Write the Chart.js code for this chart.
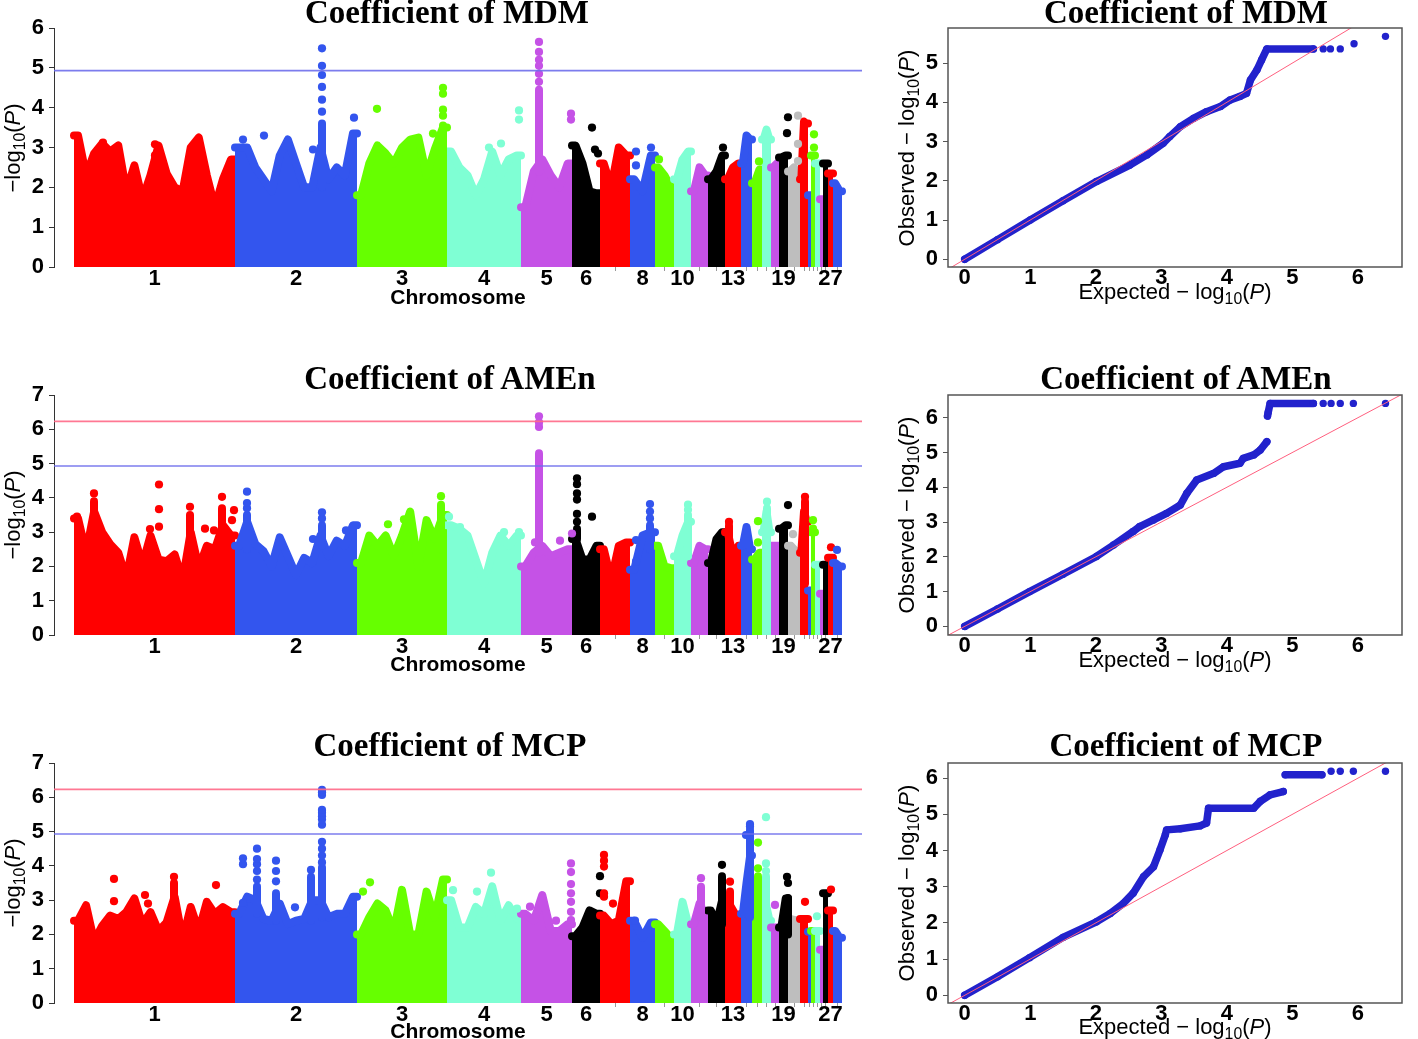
<!DOCTYPE html>
<html>
<head>
<meta charset="utf-8">
<script src="https://cdn.jsdelivr.net/npm/chart.js@4.4.1/dist/chart.umd.min.js"></script>
<style>
  body { margin: 0; background: #fff; width: 1418px; height: 1039px; position: relative; overflow: hidden;
    font-family: 'Liberation Sans', Arial, sans-serif; color: #000; }
  canvas { position: absolute; }
  .title { position: absolute; font: bold 33px 'Liberation Serif', 'Times New Roman', serif; line-height: 33px;
    white-space: nowrap; transform: translateX(-50%); }
  .lab { position: absolute; white-space: nowrap; font-size: 22px; line-height: 24px; transform: translate(-50%, -50%); }
  .rot { transform: translate(-50%, -50%) rotate(-90deg); }
  .chrom { font-weight: bold; font-size: 21px; }
  sub { font-size: 0.72em; vertical-align: -0.3em; line-height: 0; }
</style>
</head>
<body>
<canvas id="manMDM" width="870" height="310" style="left:0;top:0"></canvas>
<canvas id="manAMEn" width="870" height="320" style="left:0;top:360px"></canvas>
<canvas id="manMCP" width="870" height="319" style="left:0;top:720px"></canvas>
<canvas id="qqMDM" width="538" height="310" style="left:880px;top:0"></canvas>
<canvas id="qqAMEn" width="538" height="320" style="left:880px;top:360px"></canvas>
<canvas id="qqMCP" width="538" height="319" style="left:880px;top:720px"></canvas>

<div class="title" style="left:447px;top:-4px">Coefficient of MDM</div>
<div class="title" style="left:450px;top:362px">Coefficient of AMEn</div>
<div class="title" style="left:450px;top:729px">Coefficient of MCP</div>
<div class="title" style="left:1186px;top:-4px">Coefficient of MDM</div>
<div class="title" style="left:1186px;top:362px">Coefficient of AMEn</div>
<div class="title" style="left:1186px;top:729px">Coefficient of MCP</div>

<div class="lab chrom" style="left:458px;top:297px">Chromosome</div>
<div class="lab chrom" style="left:458px;top:664px">Chromosome</div>
<div class="lab chrom" style="left:458px;top:1031px">Chromosome</div>

<div class="lab rot" style="left:13px;top:148px">−log<sub>10</sub>(<i>P</i>)</div>
<div class="lab rot" style="left:13px;top:515px">−log<sub>10</sub>(<i>P</i>)</div>
<div class="lab rot" style="left:13px;top:883px">−log<sub>10</sub>(<i>P</i>)</div>

<div class="lab rot" style="left:907px;top:148px">Observed − log<sub>10</sub>(<i>P</i>)</div>
<div class="lab rot" style="left:907px;top:515px">Observed − log<sub>10</sub>(<i>P</i>)</div>
<div class="lab rot" style="left:907px;top:883px">Observed − log<sub>10</sub>(<i>P</i>)</div>

<div class="lab" style="left:1175px;top:292px">Expected − log<sub>10</sub>(<i>P</i>)</div>
<div class="lab" style="left:1175px;top:660px">Expected − log<sub>10</sub>(<i>P</i>)</div>
<div class="lab" style="left:1175px;top:1027px">Expected − log<sub>10</sub>(<i>P</i>)</div>

<script>
// chromosomes (no 16) and their relative lengths on the genome axis
const CHROMS = [1, 2, 3, 4, 5, 6, 7, 8, 9, 10, 11, 12, 13, 14, 15, 17, 18, 19, 20, 21, 22, 23, 24, 25, 26, 27, 28];
const CHROM_LEN = [161, 122, 90, 74, 51, 28, 30, 25, 19, 17, 17, 17, 16, 11, 10, 9, 8, 9, 12, 8, 3, 4, 5, 3, 5, 5, 9];
const CHROM_LABELED = [1, 2, 3, 4, 5, 6, 8, 10, 13, 19, 27];
const SUGGESTIVE = 4.93;
const GENOME_WIDE = 6.23;

// upper profile of the dense point cloud, per chromosome (-log10 P)
const MDM_TOP = [
  [3.3, 2.3, 2.85, 3.1, 2.9, 3.05, 1.9, 2.55, 1.7, 2.3, 3.05, 2.35, 2.0, 1.9, 3.0, 3.25, 2.3, 1.5, 2.2, 2.7],
  [3.0, 3.0, 2.5, 2.2, 1.9, 2.8, 3.2, 2.6, 2.0, 2.0, 3.0, 2.2, 2.5, 2.3, 3.35],
  [1.8, 2.6, 3.05, 2.85, 2.6, 3.0, 3.2, 3.25, 2.3, 2.95, 3.5],
  [2.9, 2.5, 2.3, 1.8, 2.2, 2.9, 2.3, 2.7, 2.8],
  [1.5, 2.4, 2.7, 2.3, 2.0, 2.6],
  [3.05, 2.6, 1.9, 1.85],
  [2.6, 2.0, 3.0, 2.8],
  [2.2, 1.9, 2.8],
  [2.5, 2.3, 2.0],
  [2.2, 2.7, 2.9],
  [1.9, 2.5, 2.3],
  [2.2, 2.4, 2.8],
  [2.2, 2.5, 2.6],
  [2.6, 3.3, 3.2],
  [2.1, 2.45],
  [3.2, 3.45, 3.2],
  [2.5, 2.6],
  [2.75, 2.8],
  [2.4, 2.5, 2.2],
  [2.2, 3.65, 3.6],
  [1.8], [2.8], [2.6], [1.7], [2.6], [2.35],
  [2.1, 1.9],
];
// solid columns [chromosome, position, from, to]
const MDM_COLS = [[2, 87, 2.0, 3.6], [3, 86, 2.5, 3.55], [5, 18, 2.4, 4.45]];
// separate points [chromosome, position, -log10 P]
const MDM_DOTS = [
  [1, 29, 3.12], [1, 81, 3.08], [1, 81, 2.8],
  [2, 8, 3.2], [2, 29, 3.3], [2, 78, 2.95], [2, 119, 3.75],
  [2, 87, 3.9], [2, 87, 4.2], [2, 87, 4.52], [2, 87, 4.82], [2, 87, 5.05], [2, 87, 5.49],
  [3, 20, 3.97], [3, 76, 3.35], [3, 86, 3.8], [3, 86, 3.95], [3, 86, 4.35], [3, 86, 4.5],
  [4, 42, 3.0], [4, 54, 3.1], [4, 72, 3.7], [4, 72, 3.93],
  [5, 18, 4.65], [5, 18, 4.85], [5, 18, 5.05], [5, 18, 5.2], [5, 18, 5.4], [5, 18, 5.65],
  [5, 50, 3.7], [5, 50, 3.85],
  [6, 20, 3.5], [6, 23, 2.95], [6, 26, 2.85],
  [8, 6, 2.55], [8, 6, 2.9], [8, 21, 3.0],
  [9, 4, 2.7], [12, 15, 3.0], [15, 7, 2.65],
  [19, 8, 3.36], [19, 9, 3.76],
  [20, 10, 2.66], [20, 10, 3.09], [20, 10, 3.8],
  [23, 3, 3.0], [23, 3, 3.33],
];

const AMEN_TOP = [
  [3.4, 2.4, 3.6, 3.0, 2.65, 2.4, 1.65, 2.85, 2.05, 2.9, 2.2, 2.15, 2.35, 1.6, 3.0, 1.95, 2.6, 2.5, 3.2, 2.9],
  [2.6, 3.3, 2.65, 2.45, 2.0, 2.85, 2.3, 1.75, 2.25, 2.1, 2.9, 2.3, 2.75, 2.6, 3.2],
  [2.1, 2.9, 2.6, 2.9, 2.3, 2.9, 3.6, 2.0, 3.35, 2.8, 3.5],
  [3.2, 3.1, 2.9, 2.2, 1.5, 2.4, 2.9, 2.6, 2.9],
  [2.0, 2.4, 2.6, 2.3, 2.4, 2.5],
  [2.8, 2.2, 2.2, 2.6],
  [2.5, 1.6, 2.6, 2.7],
  [1.9, 2.9, 3.0],
  [2.6, 2.0, 1.95],
  [2.3, 2.9, 3.3],
  [2.1, 2.6, 2.5],
  [2.1, 2.8, 3.0],
  [3.0, 2.3, 2.6],
  [2.6, 3.15, 2.5],
  [2.2, 2.4],
  [3.0, 3.6, 3.0],
  [2.6, 2.6],
  [3.1, 3.2],
  [2.6, 2.4],
  [2.4, 3.6, 3.3],
  [1.3], [3.0], [2.05], [1.2], [2.05], [2.25],
  [2.1, 2.0],
];
const AMEN_COLS = [
  [1, 20, 2.5, 3.9], [1, 116, 2.0, 3.5], [1, 148, 2.4, 3.7],
  [2, 12, 2.5, 3.5], [2, 87, 2.6, 3.2], [3, 84, 2.5, 3.8],
  [5, 18, 2.4, 5.3], [6, 5, 2.8, 3.1], [8, 20, 2.5, 3.2], [10, 14, 2.3, 3.5],
  [13, 4, 2.0, 3.2], [17, 5, 2.5, 3.7], [21, 5, 1.5, 3.9],
];
const AMEN_DOTS = [
  [1, 3, 3.45], [1, 20, 4.13], [1, 76, 3.09], [1, 85, 3.16], [1, 85, 3.67], [1, 85, 4.39],
  [1, 116, 3.74], [1, 131, 3.1], [1, 140, 3.05], [1, 148, 4.03], [1, 158, 3.35], [1, 160, 3.64],
  [2, 12, 3.7], [2, 12, 3.85], [2, 12, 4.18], [2, 78, 2.8], [2, 87, 3.4], [2, 87, 3.58], [2, 111, 3.05],
  [3, 31, 3.23], [3, 47, 3.37], [3, 84, 4.05],
  [4, 2, 3.45], [4, 13, 3.15], [4, 57, 3.0], [4, 72, 3.0],
  [5, 14, 2.7], [5, 18, 6.07], [5, 18, 6.2], [5, 18, 6.38], [5, 39, 2.75], [5, 51, 2.96],
  [6, 5, 3.3], [6, 5, 3.53], [6, 5, 3.95], [6, 5, 4.13], [6, 5, 4.4], [6, 5, 4.57], [6, 20, 3.45],
  [8, 6, 2.14], [8, 6, 2.77], [8, 20, 3.4], [8, 20, 3.6], [8, 20, 3.82],
  [10, 14, 3.65], [10, 14, 3.8], [13, 4, 3.3],
  [15, 6, 2.7], [15, 6, 3.32], [17, 5, 3.89],
  [19, 9, 3.79], [20, 5, 2.94], [21, 5, 4.03],
  [23, 2, 3.1], [23, 2, 3.35], [27, 3, 2.56], [28, 4, 2.48],
];

const MCP_TOP = [
  [2.4, 2.85, 1.8, 2.25, 2.55, 2.45, 2.65, 3.05, 2.3, 2.65, 2.1, 2.35, 3.1, 1.85, 2.8, 2.1, 2.95, 2.6, 2.8, 2.65],
  [2.6, 3.1, 3.0, 2.45, 2.4, 2.9, 2.3, 2.4, 2.45, 3.0, 3.0, 2.5, 2.6, 2.6, 3.1],
  [2.0, 2.5, 2.9, 2.7, 2.1, 3.3, 2.0, 2.0, 3.25, 2.5, 3.6],
  [3.0, 2.2, 2.2, 2.8, 2.6, 3.4, 2.4, 2.85, 2.45],
  [2.6, 2.4, 3.15, 2.1, 2.1, 2.3],
  [1.95, 2.2, 2.7, 2.6],
  [2.55, 2.3, 2.4, 3.55],
  [2.4, 1.9, 2.35],
  [2.3, 2.1, 1.9],
  [2.0, 2.95, 2.3],
  [2.3, 2.9, 2.6],
  [2.7, 2.3, 3.0],
  [2.9, 2.5],
  [2.6, 3.5, 4.3],
  [3.3, 3.4],
  [3.5, 2.8, 2.4],
  [2.2, 2.2],
  [2.2, 3.05],
  [2.45, 2.4],
  [2.45], [2.08], [2.1], [2.1], [1.55], [3.2], [2.7],
  [2.1, 1.9],
];
const MCP_COLS = [
  [1, 100, 2.2, 3.5], [2, 22, 2.6, 3.4], [2, 41, 2.4, 3.2], [2, 76, 2.4, 3.68], [2, 87, 2.5, 3.95],
  [11, 10, 2.5, 3.39], [12, 14, 2.3, 3.7], [13, 5, 2.3, 3.25], [14, 9, 2.5, 5.05],
  [15, 6, 2.5, 3.7], [17, 4, 2.5, 3.7], [19, 9, 2.0, 3.06],
];
const MCP_DOTS = [
  [1, 40, 2.97], [1, 40, 3.62], [1, 71, 3.15], [1, 74, 2.9], [1, 100, 3.68], [1, 142, 3.44],
  [2, 8, 2.92], [2, 8, 4.05], [2, 8, 4.22], [2, 22, 3.6], [2, 22, 3.85], [2, 22, 4.05], [2, 22, 4.2], [2, 22, 4.5],
  [2, 41, 3.55], [2, 41, 3.85], [2, 41, 4.15], [2, 60, 2.79], [2, 76, 3.88],
  [2, 87, 4.1], [2, 87, 4.3], [2, 87, 4.5], [2, 87, 4.7], [2, 87, 5.2], [2, 87, 5.35], [2, 87, 5.45],
  [2, 87, 5.55], [2, 87, 5.63], [2, 87, 6.07], [2, 87, 6.15], [2, 87, 6.22],
  [3, 6, 3.25], [3, 13, 3.52],
  [4, 6, 3.29], [4, 30, 3.25], [4, 44, 3.8], [4, 70, 2.75],
  [5, 9, 2.81], [5, 35, 2.4], [5, 50, 2.42], [5, 50, 2.66], [5, 50, 2.95], [5, 50, 3.2], [5, 50, 3.47], [5, 50, 3.82], [5, 50, 4.07],
  [6, 28, 3.2], [6, 28, 3.7],
  [7, 4, 3.1], [7, 4, 3.2], [7, 4, 3.98], [7, 4, 4.15], [7, 4, 4.32], [7, 13, 2.9],
  [8, 5, 2.4], [11, 10, 3.64], [12, 14, 4.03], [13, 5, 3.54],
  [14, 5, 4.9], [14, 9, 5.15], [14, 9, 5.22],
  [15, 6, 3.93], [15, 6, 4.68],
  [17, 4, 3.85], [17, 4, 4.07], [17, 4, 5.42],
  [18, 4, 2.86], [19, 8, 3.68], [19, 9, 3.5], [21, 5, 2.95], [24, 2, 2.53], [27, 3, 3.31],
];

// QQ curves: expected vs observed -log10 P (null breaks the band), then the separate top points
const MDM_QQ_EXP = [0, 0.5, 1.0, 1.5, 2.01, 2.52, 2.78, 3.03, 3.13, 3.29, 3.49, 3.69, 3.9, 4.05, 4.2, 4.3, 4.36, 4.46, 4.53, 4.61, 5.32];
const MDM_QQ_OBS = [0, 0.5, 1.0, 1.49, 1.98, 2.4, 2.66, 2.96, 3.13, 3.38, 3.59, 3.76, 3.89, 4.06, 4.15, 4.23, 4.57, 4.83, 5.08, 5.36, 5.36];
const MDM_QQ_TOP_EXP = [5.47, 5.58, 5.73, 5.94, 6.42];
const MDM_QQ_TOP_OBS = [5.36, 5.36, 5.36, 5.49, 5.68];

const AMEN_QQ_EXP = [0, 0.5, 0.99, 1.5, 2.01, 2.27, 2.57, 2.67, 2.88, 3.08, 3.29, 3.39, 3.54, 3.8, 3.95, 4.2, 4.25, 4.41, 4.51, 4.61, 4.615, 4.62, 4.63, 4.66, 5.32];
const AMEN_QQ_OBS = [0, 0.5, 1.0, 1.5, 2.01, 2.34, 2.73, 2.87, 3.06, 3.25, 3.49, 3.83, 4.21, 4.4, 4.59, 4.69, 4.83, 4.93, 5.07, 5.31, null, 6.05, 6.15, 6.41, 6.41];
const AMEN_QQ_TOP_EXP = [5.47, 5.59, 5.73, 5.93, 6.42];
const AMEN_QQ_TOP_OBS = [6.41, 6.41, 6.41, 6.41, 6.41];

const MCP_QQ_EXP = [0, 0.5, 0.99, 1.5, 2.01, 2.22, 2.42, 2.57, 2.73, 2.88, 2.98, 3.06, 3.08, 3.29, 3.59, 3.69, 3.72, 4.41, 4.51, 4.66, 4.86, 4.875, 4.89, 5.45];
const MCP_QQ_OBS = [0, 0.51, 1.04, 1.6, 2.03, 2.26, 2.54, 2.82, 3.28, 3.55, 4.02, 4.43, 4.57, 4.6, 4.68, 4.76, 5.17, 5.17, 5.36, 5.54, 5.63, null, 6.09, 6.09];
const MCP_QQ_TOP_EXP = [5.59, 5.73, 5.93, 6.42];
const MCP_QQ_TOP_OBS = [6.19, 6.19, 6.19, 6.19];

const Y_TICKS_6 = [0, 1, 2, 3, 4, 5, 6];
const Y_TICKS_7 = [0, 1, 2, 3, 4, 5, 6, 7];
const QQ_X_TICKS = [0, 1, 2, 3, 4, 5, 6];
const QQ_Y_TICKS_5 = [0, 1, 2, 3, 4, 5];
const QQ_Y_TICKS_6 = [0, 1, 2, 3, 4, 5, 6];

// styles
const PALETTE = ['#ff0000', '#3355ee', '#66ff00', '#7fffd4', '#c552e6', '#000000', '#bebebe'];
const CHROM_COLOR = [0, 1, 2, 3, 4, 5, 0, 1, 2, 3, 4, 5, 0, 1, 2, 3, 4, 5, 6, 0, 1, 2, 3, 4, 5, 0, 1];
const QQ_BLUE = '#2222cc';
const AXIS_FONT = { family: "'Liberation Sans', Arial, sans-serif", size: 22, weight: 'bold' };
const DOT_R = 4.1;

const START = [];
CHROM_LEN.reduce((acc, len) => { START.push(acc); return acc + len; }, 0);
const idxOf = (c) => CHROMS.indexOf(c);
const colorOf = (i) => PALETTE[CHROM_COLOR[i]];
const fixedTicks = (vals) => (scale) => { scale.ticks = vals.map((v) => ({ value: v })); };

function hline(y, color) {
  return { data: [{ x: -20, y }, { x: 788, y }], showLine: true, borderColor: color, borderWidth: 1.6,
    pointRadius: 0, order: 0 };
}

function manhattan(id, tops, cols, dots, yTicks, padTop, axisH) {
  const datasets = [];
  tops.forEach((vals, i) => {
    const s = START[i], len = CHROM_LEN[i], c = colorOf(i);
    const pts = [{ x: s, y: vals[0] }];
    vals.forEach((v, k) => pts.push({ x: s + (len * (k + 0.5)) / vals.length, y: v }));
    pts.push({ x: s + len, y: vals[vals.length - 1] });
    datasets.push({ data: pts, showLine: true, fill: 'origin', borderColor: c, backgroundColor: c,
      borderWidth: 8, borderJoinStyle: 'round', borderCapStyle: 'round', pointRadius: 0, order: 300 - i });
  });
  cols.forEach(([chr, pos, lo, hi]) => {
    const i = idxOf(chr), x = START[i] + pos;
    datasets.push({ data: [{ x, y: lo }, { x, y: hi }], showLine: true, borderColor: colorOf(i),
      borderWidth: 8, borderCapStyle: 'round', pointRadius: 0, order: 200 - i });
  });
  datasets.push({
    data: dots.map(([chr, pos, y]) => ({ x: START[idxOf(chr)] + pos, y })),
    pointRadius: DOT_R, pointBorderWidth: 0,
    pointBackgroundColor: dots.map(([chr]) => colorOf(idxOf(chr))), order: 50,
  });
  datasets.push(hline(SUGGESTIVE, 'rgba(110,110,235,0.9)'));
  datasets.push(hline(GENOME_WIDE, 'rgba(255,105,135,0.9)'));

  new Chart(document.getElementById(id), {
    type: 'scatter',
    data: { datasets },
    options: {
      responsive: false, animation: false, events: [],
      layout: { padding: { top: padTop, right: 8, left: 0, bottom: 0 } },
      plugins: { legend: { display: false }, tooltip: { enabled: false } },
      scales: {
        x: {
          type: 'linear', min: -20, max: 788,
          afterBuildTicks: (s) => { s.ticks = CHROMS.map((c, i) => ({ value: START[i] + CHROM_LEN[i] / 2 })); },
          afterFit: (s) => { s.height = axisH; },
          ticks: { autoSkip: false, maxRotation: 0, padding: -5, color: '#000', font: AXIS_FONT,
            callback: (v, k) => (CHROM_LABELED.includes(CHROMS[k]) ? String(CHROMS[k]) : '') },
          grid: { drawOnChartArea: false, tickLength: 4,
            color: (ctx) => (CHROM_LABELED.includes(CHROMS[ctx.index]) ? 'rgba(0,0,0,0)' : '#999') },
          border: { display: false },
        },
        y: {
          min: 0, max: yTicks[yTicks.length - 1],
          afterBuildTicks: fixedTicks(yTicks),
          afterFit: (s) => { s.width = 54; },
          ticks: { padding: 5, color: '#000', font: AXIS_FONT },
          grid: { drawOnChartArea: false, tickLength: 5, color: '#333' },
          border: { color: '#333' },
        },
      },
    },
  });
}

const boxPlugin = {
  id: 'box',
  afterDatasetsDraw(chart) {
    const { ctx, chartArea: a } = chart;
    ctx.save();
    ctx.strokeStyle = '#555';
    ctx.lineWidth = 1.5;
    ctx.strokeRect(a.left, a.top, a.right - a.left, a.bottom - a.top);
    ctx.restore();
  },
};

function qq(id, exp, obs, topExp, topObs, yMin, yMax, yTicks, padTop, axisH) {
  new Chart(document.getElementById(id), {
    type: 'scatter',
    data: {
      datasets: [
        { data: [{ x: -1, y: -1 }, { x: 8, y: 8 }], showLine: true, borderColor: '#ff5f7e',
          borderWidth: 1, pointRadius: 0, order: 0 },
        { data: exp.map((x, k) => ({ x, y: obs[k] })), showLine: true, spanGaps: false,
          borderColor: QQ_BLUE, backgroundColor: QQ_BLUE, borderWidth: 7.5,
          borderJoinStyle: 'round', borderCapStyle: 'round', pointRadius: 3.7, pointBorderWidth: 0, order: 2 },
        { data: topExp.map((x, k) => ({ x, y: topObs[k] })), backgroundColor: QQ_BLUE,
          pointRadius: 3.7, pointBorderWidth: 0, order: 1 },
      ],
    },
    plugins: [boxPlugin],
    options: {
      responsive: false, animation: false, events: [],
      layout: { padding: { top: padTop, right: 16, left: 0, bottom: 0 } },
      plugins: { legend: { display: false }, tooltip: { enabled: false } },
      scales: {
        x: {
          min: -0.255, max: 6.672,
          afterBuildTicks: fixedTicks(QQ_X_TICKS),
          afterFit: (s) => { s.height = axisH; },
          ticks: { autoSkip: false, maxRotation: 0, padding: -2, color: '#000', font: AXIS_FONT },
          grid: { display: false, drawTicks: false, tickLength: 0 },
          border: { display: false },
        },
        y: {
          min: yMin, max: yMax,
          afterBuildTicks: fixedTicks(yTicks),
          afterFit: (s) => { s.width = 68; },
          ticks: { padding: 5, color: '#000', font: AXIS_FONT },
          grid: { drawOnChartArea: false, tickLength: 5, color: '#555' },
          border: { display: false },
        },
      },
    },
  });
}

manhattan('manMDM', MDM_TOP, MDM_COLS, MDM_DOTS, Y_TICKS_6, 28, 43);
manhattan('manAMEn', AMEN_TOP, AMEN_COLS, AMEN_DOTS, Y_TICKS_7, 35, 45);
manhattan('manMCP', MCP_TOP, MCP_COLS, MCP_DOTS, Y_TICKS_7, 43, 36);

qq('qqMDM', MDM_QQ_EXP, MDM_QQ_OBS, MDM_QQ_TOP_EXP, MDM_QQ_TOP_OBS, -0.197, 5.893, QQ_Y_TICKS_5, 28, 43);
qq('qqAMEn', AMEN_QQ_EXP, AMEN_QQ_OBS, AMEN_QQ_TOP_EXP, AMEN_QQ_TOP_OBS, -0.247, 6.652, QQ_Y_TICKS_6, 35, 45);
qq('qqMCP', MCP_QQ_EXP, MCP_QQ_OBS, MCP_QQ_TOP_EXP, MCP_QQ_TOP_OBS, -0.213, 6.418, QQ_Y_TICKS_6, 43, 36);
</script>
</body>
</html>
